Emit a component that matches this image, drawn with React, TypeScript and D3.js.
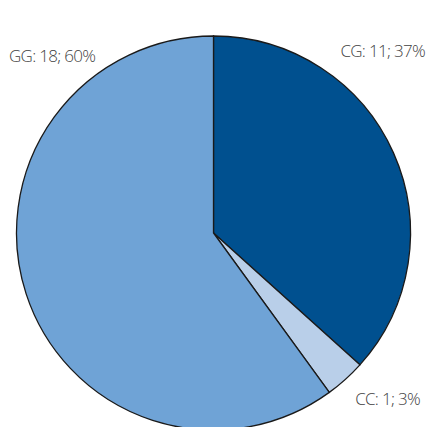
import { useEffect, useRef } from "react";
import * as d3 from "d3";

const width = 427;
const height = 427;

const genotypes = ["CG", "CC", "GG"];
const counts = [11, 1, 18];
const percents = ["37%", "3%", "60%"];
const colors = ["#00508f", "#b9cfe9", "#6fa3d6"];

// label anchors
const labelPos = [
  { x: 425, y: 57, anchor: "end" },
  { x: 420, y: 405, anchor: "end" },
  { x: 9, y: 62, anchor: "start" },
];

const App = () => {
  const ref = useRef<SVGSVGElement>(null);

  useEffect(() => {
    const svg = d3.select(ref.current);
    svg.selectAll("*").remove();

    const cx = 213.5;
    const cy = 233;
    const radius = 197;

    const data = genotypes.map((g, i) => ({ g, n: counts[i], p: percents[i], i }));

    const pie = d3.pie<any>().sort(null).value((d) => d.n);
    const arc = d3.arc<any>().innerRadius(0).outerRadius(radius);

    const g = svg.append("g").attr("transform", `translate(${cx},${cy})`);
    g.selectAll("path")
      .data(pie(data))
      .enter()
      .append("path")
      .attr("d", arc)
      .attr("fill", (d) => colors[d.data.i])
      .attr("stroke", "#1a1a1a")
      .attr("stroke-width", 1.3);

    svg.selectAll("text.lbl")
      .data(data)
      .enter()
      .append("text")
      .attr("class", "lbl")
      .attr("x", (d) => labelPos[d.i].x)
      .attr("y", (d) => labelPos[d.i].y)
      .attr("text-anchor", (d) => labelPos[d.i].anchor)
      .attr("font-family", "'Open Sans', sans-serif")
      .attr("font-size", 17)
      .attr("font-weight", 300)
      .attr("letter-spacing", -0.7)
      .attr("fill", "#3f3f3f")
      .text((d) => `${d.g}: ${d.n}; ${d.p}`);
  }, []);

  return (
    <svg
      ref={ref}
      width={width}
      height={height}
      style={{ position: "absolute", left: 0, top: 0, background: "#fff" }}
    ></svg>
  );
};

export default App;
